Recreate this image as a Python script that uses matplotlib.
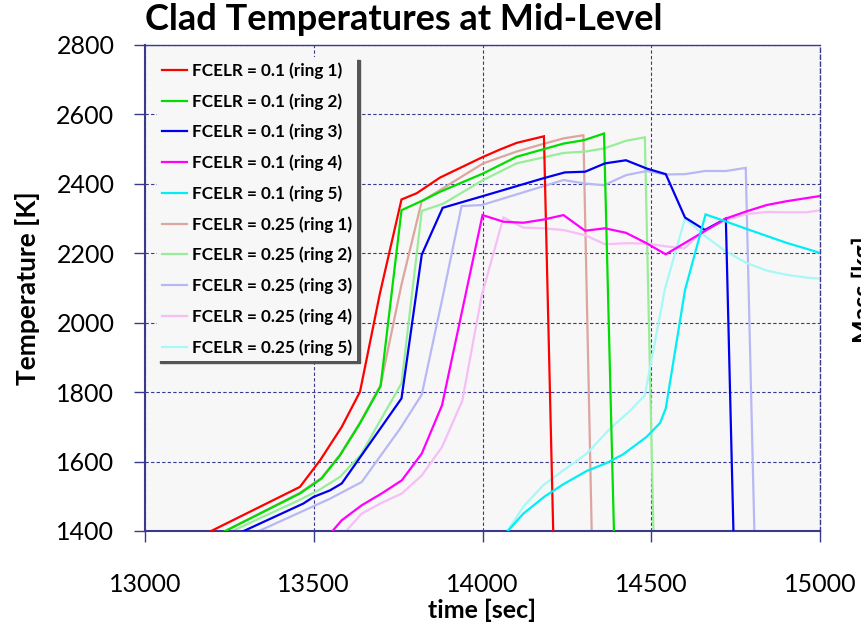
import matplotlib
matplotlib.use("Agg")
import matplotlib.pyplot as plt

plt.rcParams['font.family'] = ['Lato', 'DejaVu Sans']

# ---------------- data ----------------
t_r1_01 = [13190, 13459, 13519, 13583, 13637, 13696, 13760, 13805, 13874, 13998, 14052, 14101, 14182, 14210]
T_r1_01 = [1397, 1527, 1604, 1700, 1801, 2084, 2355, 2373, 2418, 2476, 2499, 2518, 2537, 1380]

t_r2_01 = [13232, 13459, 13523, 13578, 13637, 13698, 13760, 13825, 13874, 14002, 14101, 14240, 14301, 14360, 14390]
T_r2_01 = [1397, 1508, 1551, 1618, 1710, 1817, 2324, 2353, 2377, 2430, 2478, 2516, 2526, 2545, 1380]

t_r3_01 = [13286, 13469, 13499, 13548, 13583, 13760, 13820, 13882, 14002, 14180, 14244, 14304, 14363, 14425, 14487, 14543, 14600, 14659, 14721, 14744]
T_r3_01 = [1397, 1479, 1498, 1517, 1537, 1782, 2196, 2331, 2365, 2416, 2433, 2435, 2459, 2468, 2444, 2428, 2303, 2267, 2300, 1380]

t_r4_01 = [13553, 13583, 13642, 13701, 13761, 13820, 13880, 14000, 14062, 14121, 14180, 14240, 14304, 14363, 14425, 14484, 14543, 14721, 14783, 14842, 14901, 15000]
T_r4_01 = [1397, 1431, 1474, 1508, 1546, 1623, 1762, 2310, 2291, 2288, 2297, 2310, 2265, 2272, 2259, 2230, 2197, 2300, 2321, 2339, 2350, 2365]

t_r5_01 = [14072, 14121, 14185, 14240, 14309, 14368, 14417, 14486, 14526, 14543, 14600, 14661, 14723, 14783, 14842, 14901, 14960, 15000]
T_r5_01 = [1397, 1450, 1500, 1535, 1573, 1596, 1621, 1671, 1711, 1753, 2094, 2312, 2291, 2270, 2250, 2230, 2213, 2201]

t_r1_025 = [13232, 13459, 13523, 13578, 13637, 13698, 13760, 13820, 13874, 14002, 14101, 14180, 14240, 14299, 14324]
T_r1_025 = [1397, 1510, 1553, 1620, 1712, 1820, 2110, 2350, 2382, 2459, 2493, 2515, 2531, 2540, 1380]

t_r2_025 = [13252, 13459, 13519, 13578, 13640, 13698, 13760, 13820, 13884, 14002, 14101, 14240, 14304, 14360, 14425, 14481, 14507]
T_r2_025 = [1397, 1490, 1520, 1556, 1620, 1720, 1825, 2322, 2343, 2411, 2459, 2489, 2493, 2502, 2524, 2534, 1380]

t_r3_025 = [13331, 13548, 13642, 13756, 13820, 13882, 13938, 13998, 14240, 14304, 14360, 14425, 14486, 14543, 14600, 14659, 14721, 14780, 14806]
T_r3_025 = [1397, 1493, 1541, 1695, 1793, 2074, 2336, 2339, 2411, 2401, 2396, 2425, 2437, 2427, 2428, 2437, 2437, 2446, 1380]

t_r4_025 = [13593, 13642, 13701, 13761, 13820, 13880, 13940, 13998, 14062, 14121, 14180, 14240, 14304, 14363, 14425, 14487, 14543, 14598, 14656, 14721, 14783, 14842, 14901, 14960, 15000]
T_r4_025 = [1397, 1450, 1481, 1508, 1560, 1642, 1775, 2080, 2303, 2274, 2272, 2267, 2252, 2226, 2229, 2228, 2220, 2214, 2267, 2295, 2313, 2319, 2318, 2318, 2324]

t_r5_025 = [14072, 14121, 14180, 14240, 14309, 14378, 14437, 14481, 14541, 14600, 14659, 14721, 14783, 14842, 14901, 14960, 15000]
T_r5_025 = [1397, 1470, 1532, 1575, 1623, 1695, 1746, 1791, 2099, 2300, 2250, 2205, 2172, 2150, 2138, 2130, 2127]

labels = ['FCELR = 0.1 (ring 1)', 'FCELR = 0.1 (ring 2)', 'FCELR = 0.1 (ring 3)',
          'FCELR = 0.1 (ring 4)', 'FCELR = 0.1 (ring 5)',
          'FCELR = 0.25 (ring 1)', 'FCELR = 0.25 (ring 2)', 'FCELR = 0.25 (ring 3)',
          'FCELR = 0.25 (ring 4)', 'FCELR = 0.25 (ring 5)']

x_ticks = [13000, 13500, 14000, 14500, 15000]
y_ticks = [1400, 1600, 1800, 2000, 2200, 2400, 2600, 2800]

# ---------------- plot ----------------
series = [
    (t_r1_01, T_r1_01, '#FF0000', 3),
    (t_r2_01, T_r2_01, '#00DD00', 3),
    (t_r3_01, T_r3_01, '#0000F0', 3),
    (t_r4_01, T_r4_01, '#FF00FF', 3),
    (t_r5_01, T_r5_01, '#00EEF5', 3),
    (t_r1_025, T_r1_025, '#DDA5A0', 2),
    (t_r2_025, T_r2_025, '#98EE98', 2),
    (t_r3_025, T_r3_025, '#B8B8F4', 2),
    (t_r4_025, T_r4_025, '#F6BEF6', 2),
    (t_r5_025, T_r5_025, '#A8F8F8', 2),
]

fig = plt.figure(figsize=(8.61, 6.28), dpi=100)
ax = fig.add_axes([145/861, 1-531/628, 675/861, 486/628])
ax.set_facecolor('#F7F7F7')

handles = []
for (tx, ty, col, z), lab in zip(series, labels):
    h, = ax.plot(tx, ty, color=col, lw=1.6, zorder=z, label=lab, solid_joinstyle='miter')
    handles.append(h)

ax.set_xlim(13000, 15000)
ax.set_ylim(1400, 2800)
ax.set_xticks(x_ticks)
ax.set_yticks(y_ticks)

navy = '#3A3A8C'
ax.grid(True, color=navy, linestyle=(0, (3, 2)), linewidth=0.8, zorder=1)
ax.set_axisbelow(True)
for s in ['left', 'bottom']:
    ax.spines[s].set_color(navy)
    ax.spines[s].set_linewidth(1.5)
ax.spines['top'].set_color(navy)
ax.spines['top'].set_linewidth(1.0)
ax.spines['right'].set_color(navy)
ax.spines['right'].set_linewidth(1.0)
ax.spines['right'].set_linestyle((0, (3, 2)))

ax.tick_params(axis='both', direction='out', length=8, width=1, color=navy,
               labelsize=18, pad=14)
ax.tick_params(axis='x', pad=22)

ax.set_xlabel('time [sec]', fontsize=18, fontweight='bold', labelpad=2)
ax.set_ylabel('Temperature [K]', fontsize=19, fontweight='bold', labelpad=12)

fig.text(404/861, 1-20/628, 'Clad Temperatures at Mid-Level', fontsize=26,
         fontweight='bold', ha='center', va='center')

leg = ax.legend(handles=handles, loc='upper left', bbox_to_anchor=(0.018, 0.975),
                borderaxespad=0, prop={'weight': 'bold', 'size': 12.3},
                handlelength=1.45, handletextpad=0.3, labelspacing=0.83,
                borderpad=0.3, frameon=True, fancybox=False,
                shadow={'color': '#555555', 'alpha': 1.0})
leg.get_frame().set_facecolor('#F7F7F7')
leg.get_frame().set_edgecolor('none')
leg.set_zorder(10)

fig.text(863/861, 1-290/628, 'Mass [kg]', rotation=90, fontsize=18,
         fontweight='bold', ha='center', va='center')

fig.savefig('out.png', dpi=100)
